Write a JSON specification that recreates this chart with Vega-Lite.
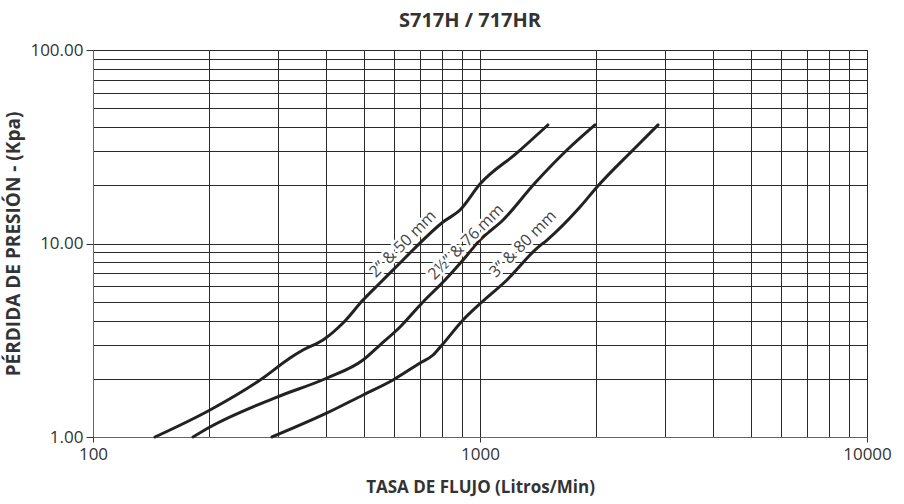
{
  "$schema": "https://vega.github.io/schema/vega-lite/v6.json",
  "width": 774,
  "height": 387,
  "autosize": "none",
  "padding": {"left": 93, "top": 50, "right": 37, "bottom": 67},
  "background": "white",
  "config": {
    "view": {"stroke": "#6b6b3a", "strokeWidth": 1},
    "font": "Open Sans"
  },
  "title": {
    "text": "S717H / 717HR",
    "font": "Open Sans",
    "fontSize": 20,
    "fontWeight": "bold",
    "color": "#333333",
    "anchor": "middle",
    "offset": 10,
    "dx": -10
  },
  "datasets": {
    "curves": [
      {"series": "2in", "flow": 144.6, "loss": 1},
      {"series": "2in", "flow": 200.6, "loss": 1.379},
      {"series": "2in", "flow": 275, "loss": 2.018},
      {"series": "2in", "flow": 322.9, "loss": 2.561},
      {"series": "2in", "flow": 348.8, "loss": 2.816},
      {"series": "2in", "flow": 392.9, "loss": 3.172},
      {"series": "2in", "flow": 442.6, "loss": 3.883},
      {"series": "2in", "flow": 498.6, "loss": 5.105},
      {"series": "2in", "flow": 551.5, "loss": 6.25},
      {"series": "2in", "flow": 614, "loss": 7.743},
      {"series": "2in", "flow": 671, "loss": 9.26},
      {"series": "2in", "flow": 802.5, "loss": 12.91},
      {"series": "2in", "flow": 887.8, "loss": 14.9},
      {"series": "2in", "flow": 1000, "loss": 20.3},
      {"series": "2in", "flow": 1246, "loss": 29.4},
      {"series": "2in", "flow": 1498, "loss": 41},
      {"series": "2.5in", "flow": 181.3, "loss": 1},
      {"series": "2.5in", "flow": 200.6, "loss": 1.126},
      {"series": "2.5in", "flow": 298.9, "loss": 1.609},
      {"series": "2.5in", "flow": 402.4, "loss": 2.018},
      {"series": "2.5in", "flow": 498.6, "loss": 2.5},
      {"series": "2.5in", "flow": 551.5, "loss": 2.988},
      {"series": "2.5in", "flow": 621.4, "loss": 3.702},
      {"series": "2.5in", "flow": 708.2, "loss": 4.926},
      {"series": "2.5in", "flow": 812.1, "loss": 6.477},
      {"series": "2.5in", "flow": 904, "loss": 8.218},
      {"series": "2.5in", "flow": 1000, "loss": 10.42},
      {"series": "2.5in", "flow": 1147, "loss": 13.23},
      {"series": "2.5in", "flow": 1387, "loss": 20.54},
      {"series": "2.5in", "flow": 1678, "loss": 30.42},
      {"series": "2.5in", "flow": 1982, "loss": 41},
      {"series": "3in", "flow": 290, "loss": 1},
      {"series": "3in", "flow": 402.4, "loss": 1.331},
      {"series": "3in", "flow": 498.6, "loss": 1.649},
      {"series": "3in", "flow": 596, "loss": 1.971},
      {"series": "3in", "flow": 699.8, "loss": 2.412},
      {"series": "3in", "flow": 756.3, "loss": 2.653},
      {"series": "3in", "flow": 797.7, "loss": 2.988},
      {"series": "3in", "flow": 904, "loss": 4.024},
      {"series": "3in", "flow": 1012, "loss": 4.986},
      {"series": "3in", "flow": 1174, "loss": 6.477},
      {"series": "3in", "flow": 1402, "loss": 9.44},
      {"series": "3in", "flow": 1490, "loss": 10.42},
      {"series": "3in", "flow": 1813, "loss": 15.44},
      {"series": "3in", "flow": 2006, "loss": 19.59},
      {"series": "3in", "flow": 2485, "loss": 30.42},
      {"series": "3in", "flow": 2884, "loss": 41}
    ],
    "labels": [
      {"flow": 632, "loss": 9.94, "label": "2” & 50 mm"},
      {"flow": 920, "loss": 10.18, "label": "2½” & 76 mm"},
      {"flow": 1291, "loss": 9.94, "label": "3” & 80 mm"}
    ]
  },
  "encoding": {
    "x": {
      "field": "flow",
      "type": "quantitative",
      "scale": {"type": "log", "domain": [100, 10000], "nice": false},
      "axis": {
        "title": "TASA DE FLUJO (Litros/Min)",
        "values": [100, 200, 300, 400, 500, 600, 700, 800, 900, 1000, 2000, 3000, 4000, 5000, 6000, 7000, 8000, 9000, 10000],
        "labelExpr": "indexof([100, 1000, 10000], datum.value) >= 0 ? format(datum.value, 'd') : ''",
        "grid": true,
        "gridColor": "#2a2a2a",
        "gridWidth": 1,
        "gridOpacity": 1,
        "domainColor": "#6b6b3a",
        "tickColor": "#333333",
        "tickSize": 5,
        "tickOpacity": {"condition": {"test": "indexof([100, 1000, 10000], datum.value) >= 0", "value": 1}, "value": 0},
        "labelFont": "Open Sans",
        "labelFontSize": 17,
        "labelColor": "#333333",
        "labelPadding": 4,
        "labelFlush": false,
        "labelOverlap": false,
        "titleFont": "Open Sans",
        "titleFontSize": 17,
        "titleFontWeight": "bold",
        "titleColor": "#333333",
        "titlePadding": 17
      }
    },
    "y": {
      "field": "loss",
      "type": "quantitative",
      "scale": {"type": "log", "domain": [1, 100], "nice": false},
      "axis": {
        "title": "PÉRDIDA DE PRESIÓN - (Kpa)",
        "values": [1, 2, 3, 4, 5, 6, 7, 8, 9, 10, 20, 30, 40, 50, 60, 70, 80, 90, 100],
        "labelExpr": "indexof([1, 10, 100], datum.value) >= 0 ? format(datum.value, '.2f') : ''",
        "grid": true,
        "gridColor": "#2a2a2a",
        "gridWidth": 1,
        "gridOpacity": 1,
        "domainColor": "#6b6b3a",
        "tickColor": "#333333",
        "tickSize": 7,
        "tickOpacity": {"condition": {"test": "indexof([1, 10, 100], datum.value) >= 0", "value": 1}, "value": 0},
        "labelFont": "Open Sans",
        "labelFontSize": 17,
        "labelColor": "#333333",
        "labelPadding": 3,
        "labelFlush": false,
        "labelOverlap": false,
        "titleFont": "Open Sans",
        "titleFontSize": 19,
        "titleFontWeight": "bold",
        "titleColor": "#333333",
        "titlePadding": 6
      }
    }
  },
  "layer": [
    {
      "data": {"name": "curves"},
      "mark": {"type": "line", "color": "#222222", "strokeWidth": 3, "interpolate": "monotone", "strokeCap": "round", "clip": false},
      "encoding": {"detail": {"field": "series"}}
    },
    {
      "data": {"name": "labels"},
      "mark": {"type": "text", "angle": -45, "font": "Open Sans", "fontSize": 16, "fill": "white", "stroke": "white", "strokeWidth": 5, "strokeJoin": "round", "align": "center", "baseline": "middle"},
      "encoding": {"text": {"field": "label"}}
    },
    {
      "data": {"name": "labels"},
      "mark": {"type": "text", "angle": -45, "font": "Open Sans", "fontSize": 16, "fill": "#444444", "align": "center", "baseline": "middle"},
      "encoding": {"text": {"field": "label"}}
    }
  ]
}
